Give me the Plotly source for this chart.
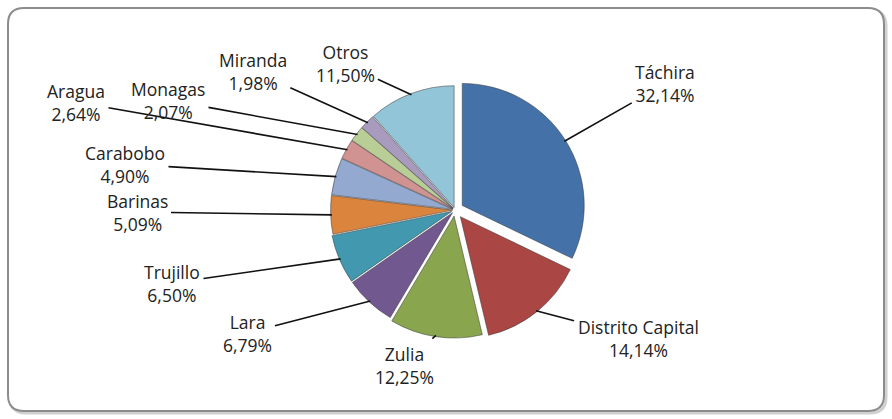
import math
import plotly.graph_objects as go

labels = ["Táchira", "Distrito Capital", "Zulia", "Lara", "Trujillo", "Barinas",
          "Carabobo", "Aragua", "Monagas", "Miranda", "Otros"]
values = [32.14, 14.14, 12.25, 6.79, 6.50, 5.09, 4.90, 2.64, 2.07, 1.98, 11.50]
colors = ["#4472A8", "#AA4643", "#89A54E", "#71588F", "#4198AF", "#DB843D",
          "#93A9CF", "#D19392", "#B9CD96", "#A99BBD", "#92C5D8"]
pulls = [0.07, 0.07, 0.05, 0.03, 0.03, 0.02, 0.02, 0.02, 0.02, 0.02, 0.02]

# layout: label centres in pixels (from top-left)
label_pos = [(665, 84), (638, 338), (404, 365), (247, 333), (172, 283), (137, 212),
             (125, 164), (76, 102), (168, 100), (253, 71), (345, 64)]

W, H = 892, 419
CX, CY, R = 455, 210, 122
maxpull = max(pulls)
rmax = R * (1 + maxpull)
dom_x = [CX / W - rmax / W, CX / W + rmax / W]
dom_y = [1 - CY / H - rmax / H, 1 - CY / H + rmax / H]

fig = go.Figure()
fig.add_trace(go.Pie(
    labels=labels, values=values, sort=False, direction="clockwise", rotation=0,
    marker=dict(colors=colors, line=dict(color="#333333", width=0.5)),
    pull=pulls, automargin=False,
    textinfo="none",
    domain=dict(x=dom_x, y=dom_y),
    showlegend=False,
    hoverinfo="label+value",
))

total = sum(values)
annotations = []
cum = 0.0
for lab, v, p, (lx, ly) in zip(labels, values, pulls, label_pos):
    mid = (cum + v / 2) / total * 2 * math.pi
    cum += v
    rr = R * (1 + p) * 0.99
    tx = CX + rr * math.sin(mid)
    ty = CY - rr * math.cos(mid)
    txt = f"{lab}<br>{v:.2f}%".replace(".", ",")
    annotations.append(dict(
        xref="paper", yref="paper", x=tx / W, y=1 - ty / H,
        ax=lx - tx, ay=ly - ty, axref="pixel", ayref="pixel",
        text=txt, showarrow=True, arrowhead=0, arrowwidth=1.6, arrowcolor="#111111",
        standoff=0, startstandoff=2,
        font=dict(family="Open Sans", size=17.5, color="#222222"),
        align="center", xanchor="center", yanchor="middle",
    ))

def rrect(x0, y0, x1, y1, r):
    rx, ry = r / W, r / H
    X0, X1 = x0 / W, x1 / W
    Y0, Y1 = 1 - y1 / H, 1 - y0 / H
    return (f"M {X0+rx} {Y0} L {X1-rx} {Y0} Q {X1} {Y0} {X1} {Y0+ry} "
            f"L {X1} {Y1-ry} Q {X1} {Y1} {X1-rx} {Y1} L {X0+rx} {Y1} "
            f"Q {X0} {Y1} {X0} {Y1-ry} L {X0} {Y0+ry} Q {X0} {Y0} {X0+rx} {Y0} Z")

fig.update_layout(
    width=W, height=H,
    margin=dict(l=0, r=0, t=0, b=0, autoexpand=False),
    paper_bgcolor="white",
    separators=",.",
    annotations=annotations,
    shapes=[
        dict(type="path", xref="paper", yref="paper", path=rrect(10, 10, 886, 413, 16),
             line=dict(color="#d0d0d0", width=3), layer="below"),
        dict(type="path", xref="paper", yref="paper", path=rrect(8, 8, 884, 411, 16),
             line=dict(color="#8c8c8c", width=2), fillcolor="white", layer="below"),
    ],
)
fig.write_html("out.html", config={"displayModeBar": False},
               post_script="document.body.style.margin='0';document.body.style.overflow='hidden';")
